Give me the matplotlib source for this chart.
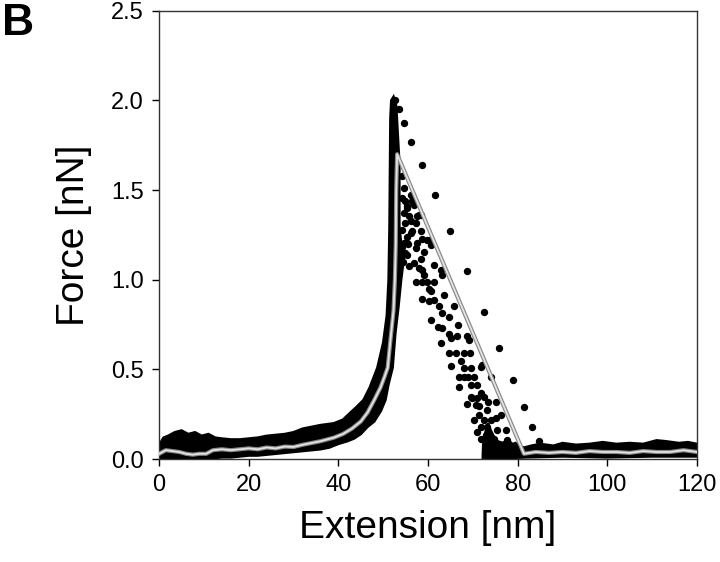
import matplotlib
matplotlib.use('Agg')
import matplotlib.pyplot as plt
import numpy as np

plt.rcParams['font.family'] = ['Liberation Sans', 'DejaVu Sans']

# outline of the dense band of overlaid approach curves (left part + spike)
band_x = [0, 1, 2, 3.5, 5, 6.5, 8, 9.5, 11, 12.5, 14, 16, 18, 20, 22, 24, 26, 28,
          30, 32, 34, 36, 39, 41, 42.7, 44, 45.6, 47, 48.7, 50, 50.8, 51.2, 51.4,
          51.5, 51.6, 51.8, 52.3, 52.9, 53.6, 53.6, 54.0, 54.6, 54.0, 53.4, 52.7,
          52.1, 51.2, 50.5, 49.5, 48, 46.5, 45, 43.5, 42, 40, 38, 36, 34, 32, 30,
          28, 26, 24, 22, 20, 18, 16, 14, 12, 10, 5, 2, 0]
band_y = [0.08, 0.12, 0.13, 0.15, 0.16, 0.14, 0.15, 0.13, 0.14, 0.12, 0.115, 0.11,
          0.11, 0.115, 0.12, 0.13, 0.135, 0.14, 0.15, 0.17, 0.18, 0.19, 0.20, 0.22,
          0.26, 0.29, 0.33, 0.40, 0.51, 0.65, 0.80, 1.0, 1.3, 1.6, 1.9, 2.0, 2.02,
          1.97, 1.65, 1.30, 1.20, 1.12, 1.0, 0.85, 0.70, 0.51, 0.42, 0.33, 0.27,
          0.21, 0.18, 0.14, 0.115, 0.10, 0.085, 0.065, 0.055, 0.05, 0.045, 0.04,
          0.035, 0.03, 0.025, 0.02, 0.02, 0.015, 0.01, 0.01, 0.005, 0.0, 0.0, 0.0, 0.0]

# dense cluster at rupture end plus baseline band after rupture
tail_x = [72.2, 72.3, 72.8, 73.4, 74.0, 74.6, 75.5, 76.5, 77.5, 78.5, 79.5, 80.5,
          81.5, 83, 85, 88, 90, 93, 96, 99, 102, 105, 108, 111, 113, 116, 118, 120,
          120, 110, 100, 90, 82, 72.2]
tail_y = [0.0, 0.08, 0.15, 0.20, 0.16, 0.13, 0.10, 0.09, 0.10, 0.08, 0.09, 0.07,
          0.065, 0.075, 0.085, 0.075, 0.09, 0.08, 0.085, 0.095, 0.085, 0.09, 0.085,
          0.105, 0.10, 0.09, 0.095, 0.085,
          0.015, 0.015, 0.01, 0.015, 0.01, 0.0]

# scattered rupture points
dots_x = [52.7, 53.5, 54.6, 56.3, 58.7, 61.5, 64.8, 68.6, 72.5, 75.8, 79.0, 81.4,
          83.3, 84.8,
          54.23, 54.60, 56.09, 54.23, 56.46, 55.35, 57.95, 55.72, 54.97, 57.21,
          58.33, 56.09, 59.82, 57.58, 55.35,
          56.46, 54.97, 56.83, 54.60, 57.58, 56.09, 58.32, 55.34,
          56.47, 58.70, 60.41, 54.60, 57.21, 55.35, 59.07, 58.33, 60.56, 56.84,
          55.72, 57.96, 58.70, 62.80, 61.31, 59.07, 57.21, 58.70, 59.82, 61.31,
          63.17, 60.19, 60.56, 58.70, 60.19, 61.31, 63.54, 62.43, 63.17, 64.66,
          60.56, 65.78, 62.20, 63.17, 66.67, 64.66, 68.76, 65.03, 62.80, 66.37,
          69.13, 64.66, 66.15, 68.01, 69.35, 67.27, 65.03, 68.01, 69.50, 71.74,
          72.11, 66.89, 68.01, 68.91, 70.25, 69.50, 70.99, 66.97, 73.97, 71.74,
          72.48, 69.50, 69.87, 70.99, 68.76, 70.62, 71.36, 73.38, 75.09, 73.23,
          71.36, 70.25, 72.48, 73.97, 75.09, 76.21, 71.74, 73.23, 70.99, 75.46,
          77.32, 71.74, 72.85, 74.72, 77.69, 78.07, 73.23, 75.83,
          54.3, 54.8, 55.2, 54.4, 55.6, 54.1]
dots_y = [2.0, 1.95, 1.875, 1.77, 1.64, 1.47, 1.27, 1.05, 0.82, 0.62, 0.44, 0.29,
          0.18, 0.10,
          1.577, 1.512, 1.475, 1.456, 1.437, 1.409, 1.363, 1.353, 1.316, 1.316,
          1.27, 1.26, 1.223, 1.205, 1.205,
          1.475, 1.438, 1.419, 1.373, 1.354, 1.326, 1.363, 1.40,
          1.27, 1.227, 1.223, 1.205, 1.177, 1.139, 1.152, 1.115, 1.195, 1.093,
          1.078, 1.065, 1.056, 1.056, 1.083, 1.028, 0.990, 0.990, 0.985, 0.985,
          1.028, 0.948, 0.938, 0.892, 0.879, 0.888, 0.916, 0.851, 0.813, 0.795,
          0.776, 0.851, 0.739, 0.730, 0.748, 0.698, 0.687, 0.674, 0.646, 0.687,
          0.664, 0.590, 0.590, 0.590, 0.590, 0.547, 0.519, 0.506, 0.506, 0.515,
          0.525, 0.460, 0.460, 0.460, 0.460, 0.413, 0.413, 0.404, 0.460, 0.367,
          0.348, 0.348, 0.339, 0.339, 0.307, 0.301, 0.296, 0.320, 0.320, 0.273,
          0.245, 0.218, 0.218, 0.218, 0.227, 0.245, 0.180, 0.180, 0.152, 0.162,
          0.162, 0.115, 0.134, 0.115, 0.106, 0.087, 0.087, 0.087,
          1.18, 1.15, 1.24, 1.10, 1.20, 1.28]

# averaged force curve
mean_x = [0, 1.5, 3, 4.5, 6, 7.5, 9, 10.5, 12, 14, 16, 18, 20, 22, 24, 26, 28, 30,
          32, 34, 36, 37.5, 39, 41, 43, 45, 46.5, 48, 49.4, 50.3, 51, 51.6, 52.3,
          52.6, 52.8, 52.9, 53.1, 81.4, 84, 87, 90, 93, 96, 99, 102, 105, 108,
          111, 114, 117, 120]
mean_y = [0.03, 0.05, 0.045, 0.04, 0.03, 0.025, 0.03, 0.03, 0.05, 0.055, 0.05,
          0.055, 0.06, 0.055, 0.065, 0.06, 0.07, 0.068, 0.08, 0.09, 0.10, 0.11,
          0.12, 0.14, 0.17, 0.21, 0.26, 0.33, 0.40, 0.46, 0.51, 0.66, 0.83, 1.0,
          1.2, 1.5, 1.70, 0.03, 0.04, 0.035, 0.04, 0.035, 0.045, 0.04, 0.04,
          0.035, 0.045, 0.04, 0.04, 0.05, 0.04]

fig = plt.figure(figsize=(7.2, 5.62), dpi=100)
ax = fig.add_axes([0.221, 0.183, 0.747, 0.798])

ax.fill(band_x, band_y, color='black', lw=1.8, ec='black', zorder=2)
ax.fill(tail_x, tail_y, color='black', lw=1.8, ec='black', zorder=2)
ax.plot(dots_x, dots_y, 'o', color='black', ms=5.3, mew=0, zorder=2)
ax.plot(mean_x, mean_y, color='#888888', lw=3.0, zorder=3)
ax.plot(mean_x, mean_y, color='#e4e4e4', lw=1.3, zorder=4)

ax.set_xlim(0, 120)
ax.set_ylim(0, 2.5)
ax.set_xticks(np.arange(0, 121, 20))
ax.set_yticks(np.arange(0, 2.51, 0.5))
ax.set_yticklabels([f'{v:.1f}' for v in np.arange(0, 2.51, 0.5)])
ax.tick_params(direction='out', length=5, width=1, labelsize=17, pad=6)
ax.tick_params(top=False, right=False)
for s in ax.spines.values():
    s.set_linewidth(1)
    s.set_color('#333333')

ax.set_xlabel('Extension [nm]', fontsize=28, labelpad=10)
ax.set_ylabel('Force [nN]', fontsize=28, labelpad=14)

fig.text(0.003, 0.995, 'B', fontsize=32, fontweight='bold', va='top', ha='left')

fig.savefig('out.png', dpi=100)
